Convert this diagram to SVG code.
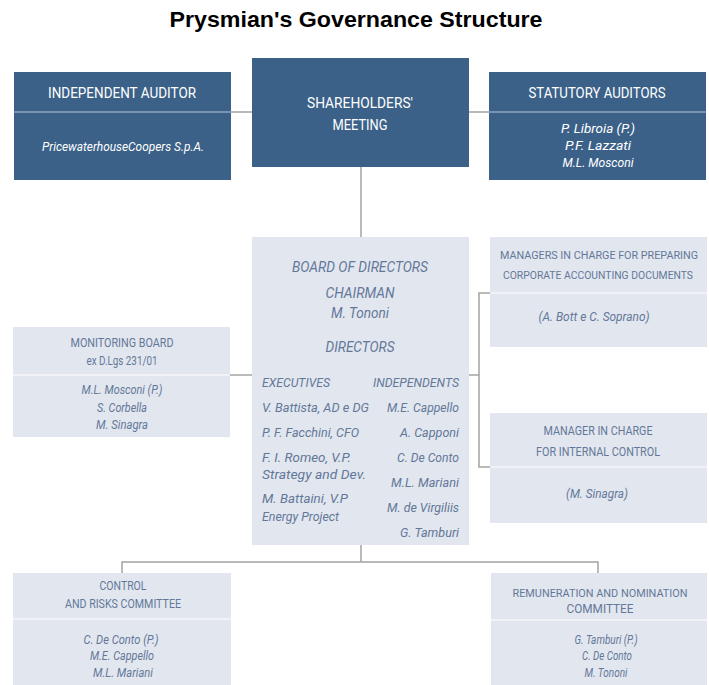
<svg xmlns="http://www.w3.org/2000/svg" width="709" height="685" viewBox="0 0 709 685">
<style>
.dark{fill:#3b6189}
.light{fill:#e2e6ee}
.divd{stroke:#8fa6bf;stroke-width:1.5}
.divl{stroke:#f4f6f9;stroke-width:1.5}
.conn{stroke:#a3a3a3;stroke-width:1.5;fill:none}
text{font-family:Roboto,"Liberation Sans",sans-serif;text-anchor:middle}
.wt{fill:#ffffff;font-size:14px}
.wi{fill:#ffffff;font-size:12.5px;font-style:italic}
.lt{fill:#62789a;font-size:12.5px}
.sm{font-size:11px}
.li{fill:#62789a;font-size:12px;font-style:italic}
.bt{fill:#62789a;font-size:15px;font-style:italic}
.bs{fill:#62789a;font-size:13px;font-style:italic}
.st{text-anchor:start}
.en{text-anchor:end}
.title{font-family:"Liberation Sans",Arial,sans-serif;font-weight:bold;font-size:22px;fill:#000}
</style>
<rect width="709" height="685" fill="#ffffff"/>
<text class="title" x="356" y="27" textLength="373" lengthAdjust="spacingAndGlyphs">Prysmian's Governance Structure</text>
<g id="connectors">
<line class="conn" x1="231" y1="112" x2="252" y2="112"/>
<line class="conn" x1="469" y1="112" x2="489" y2="112"/>
<line class="conn" x1="361" y1="167" x2="361" y2="237"/>
<line class="conn" x1="230" y1="375" x2="252" y2="375"/>
<polyline class="conn" points="469,375 479,375"/>
<polyline class="conn" points="490,293 479,293 479,467 490,467"/>
<polyline class="conn" points="361,545 361,562"/>
<polyline class="conn" points="122,573 122,562 598,562 598,573"/>
</g>
<g id="independent-auditor">
<rect class="dark" x="14" y="72" width="217" height="108"/>
<line class="divd" x1="14" y1="112" x2="231" y2="112"/>
<text class="wt" x="122" y="98" textLength="148" lengthAdjust="spacingAndGlyphs">INDEPENDENT AUDITOR</text>
<text class="wi" x="123" y="151" textLength="162" lengthAdjust="spacingAndGlyphs">PricewaterhouseCoopers S.p.A.</text>
</g>
<g id="shareholders-meeting">
<rect class="dark" x="252" y="58" width="217" height="109"/>
<text class="wt" x="360" y="108" textLength="106" lengthAdjust="spacingAndGlyphs">SHAREHOLDERS'</text>
<text class="wt" x="360" y="130" textLength="55" lengthAdjust="spacingAndGlyphs">MEETING</text>
</g>
<g id="statutory-auditors">
<rect class="dark" x="489" y="72" width="217" height="108"/>
<line class="divd" x1="489" y1="112" x2="706" y2="112"/>
<text class="wt" x="597" y="98" textLength="137" lengthAdjust="spacingAndGlyphs">STATUTORY AUDITORS</text>
<text class="wi" x="598" y="133" textLength="74" lengthAdjust="spacingAndGlyphs">P. Libroia (P.)</text>
<text class="wi" x="598" y="150" textLength="66" lengthAdjust="spacingAndGlyphs">P.F. Lazzati</text>
<text class="wi" x="598" y="167" textLength="71" lengthAdjust="spacingAndGlyphs">M.L. Mosconi</text>
</g>
<g id="board-of-directors">
<rect class="light" x="252" y="237" width="217" height="308"/>
<text class="bt" x="360" y="272" textLength="136" lengthAdjust="spacingAndGlyphs">BOARD OF DIRECTORS</text>
<text class="bt" x="360" y="298" textLength="69" lengthAdjust="spacingAndGlyphs">CHAIRMAN</text>
<text class="bt" x="360" y="318" textLength="58" lengthAdjust="spacingAndGlyphs">M. Tononi</text>
<text class="bt" x="360" y="352" textLength="69" lengthAdjust="spacingAndGlyphs">DIRECTORS</text>
<text class="bs st" x="262" y="387" textLength="68" lengthAdjust="spacingAndGlyphs">EXECUTIVES</text>
<text class="bs st" x="262" y="412" textLength="107" lengthAdjust="spacingAndGlyphs">V. Battista, AD e DG</text>
<text class="bs st" x="262" y="437" textLength="97" lengthAdjust="spacingAndGlyphs">P. F. Facchini, CFO</text>
<text class="bs st" x="262" y="462" textLength="89" lengthAdjust="spacingAndGlyphs">F. I. Romeo, V.P.</text>
<text class="bs st" x="262" y="479" textLength="104" lengthAdjust="spacingAndGlyphs">Strategy and Dev.</text>
<text class="bs st" x="262" y="503" textLength="86" lengthAdjust="spacingAndGlyphs">M. Battaini, V.P</text>
<text class="bs st" x="262" y="521" textLength="77" lengthAdjust="spacingAndGlyphs">Energy Project</text>
<text class="bs en" x="459" y="387" textLength="86" lengthAdjust="spacingAndGlyphs">INDEPENDENTS</text>
<text class="bs en" x="459" y="412" textLength="72" lengthAdjust="spacingAndGlyphs">M.E. Cappello</text>
<text class="bs en" x="459" y="437" textLength="59" lengthAdjust="spacingAndGlyphs">A. Capponi</text>
<text class="bs en" x="459" y="462" textLength="62" lengthAdjust="spacingAndGlyphs">C. De Conto</text>
<text class="bs en" x="459" y="487" textLength="68" lengthAdjust="spacingAndGlyphs">M.L. Mariani</text>
<text class="bs en" x="459" y="512" textLength="72" lengthAdjust="spacingAndGlyphs">M. de Virgiliis</text>
<text class="bs en" x="459" y="537" textLength="59" lengthAdjust="spacingAndGlyphs">G. Tamburi</text>
</g>
<g id="monitoring-board">
<rect class="light" x="13" y="327" width="217" height="110"/>
<line class="divl" x1="13" y1="375" x2="230" y2="375"/>
<text class="lt" x="122" y="347" textLength="103" lengthAdjust="spacingAndGlyphs">MONITORING BOARD</text>
<text class="lt" x="122" y="365" textLength="71" lengthAdjust="spacingAndGlyphs">ex D.Lgs 231/01</text>
<text class="li" x="122" y="394" textLength="81" lengthAdjust="spacingAndGlyphs">M.L. Mosconi (P.)</text>
<text class="li" x="122" y="412" textLength="50" lengthAdjust="spacingAndGlyphs">S. Corbella</text>
<text class="li" x="122" y="429" textLength="52" lengthAdjust="spacingAndGlyphs">M. Sinagra</text>
</g>
<g id="managers-accounting">
<rect class="light" x="490" y="237" width="217" height="110"/>
<line class="divl" x1="490" y1="293" x2="707" y2="293"/>
<text class="lt sm" x="599" y="259" textLength="198" lengthAdjust="spacingAndGlyphs">MANAGERS IN CHARGE FOR PREPARING</text>
<text class="lt sm" x="598" y="279" textLength="190" lengthAdjust="spacingAndGlyphs">CORPORATE ACCOUNTING DOCUMENTS</text>
<text class="li" x="594" y="321" textLength="111" lengthAdjust="spacingAndGlyphs">(A. Bott e C. Soprano)</text>
</g>
<g id="manager-internal-control">
<rect class="light" x="490" y="413" width="217" height="110"/>
<line class="divl" x1="490" y1="467" x2="707" y2="467"/>
<text class="lt" x="598" y="435" textLength="109" lengthAdjust="spacingAndGlyphs">MANAGER IN CHARGE</text>
<text class="lt" x="598" y="456" textLength="124" lengthAdjust="spacingAndGlyphs">FOR INTERNAL CONTROL</text>
<text class="li" x="597" y="498" textLength="62" lengthAdjust="spacingAndGlyphs">(M. Sinagra)</text>
</g>
<g id="control-risks-committee">
<rect class="light" x="13" y="573" width="218" height="112"/>
<line class="divl" x1="13" y1="619" x2="231" y2="619"/>
<text class="lt" x="123" y="590" textLength="47" lengthAdjust="spacingAndGlyphs">CONTROL</text>
<text class="lt" x="123" y="608" textLength="116" lengthAdjust="spacingAndGlyphs">AND RISKS COMMITTEE</text>
<text class="li" x="121" y="644" textLength="75" lengthAdjust="spacingAndGlyphs">C. De Conto (P.)</text>
<text class="li" x="122" y="660" textLength="64" lengthAdjust="spacingAndGlyphs">M.E. Cappello</text>
<text class="li" x="123" y="677" textLength="60" lengthAdjust="spacingAndGlyphs">M.L. Mariani</text>
</g>
<g id="remuneration-nomination-committee">
<rect class="light" x="491" y="573" width="216" height="112"/>
<line class="divl" x1="491" y1="620" x2="707" y2="620"/>
<text class="lt sm" x="600" y="597" textLength="175" lengthAdjust="spacingAndGlyphs">REMUNERATION AND NOMINATION</text>
<text class="lt" x="600" y="613" textLength="67" lengthAdjust="spacingAndGlyphs">COMMITTEE</text>
<text class="li" x="606" y="644" textLength="63" lengthAdjust="spacingAndGlyphs">G. Tamburi (P.)</text>
<text class="li" x="607" y="660" textLength="50" lengthAdjust="spacingAndGlyphs">C. De Conto</text>
<text class="li" x="606" y="677" textLength="43" lengthAdjust="spacingAndGlyphs">M. Tononi</text>
</g>
</svg>
